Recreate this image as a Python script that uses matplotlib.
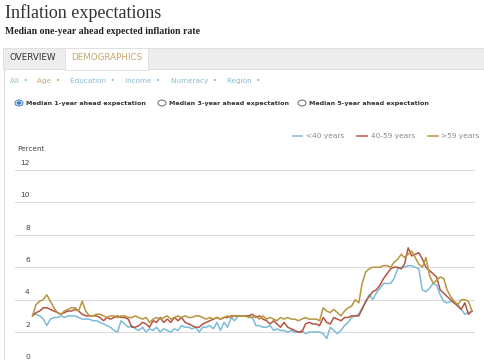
import numpy as np
import pandas as pd
import matplotlib
matplotlib.use("Agg")
import matplotlib.pyplot as plt
from matplotlib.patches import Rectangle, Circle

# Median one-year ahead expected inflation, by age group (monthly, from Jun 2013)
months = pd.date_range("2013-06-01", periods=125, freq="MS")

under_40 = [
    3.1, 3.1, 3.0, 2.8, 2.4, 2.8, 2.9, 2.9, 3.0, 2.9, 3.0, 3.0, 3.0, 2.9, 2.8, 2.8,
    2.8, 2.7, 2.7, 2.6, 2.5, 2.4, 2.3, 2.1, 2.0, 2.7, 2.5, 2.3, 2.4, 2.2, 2.1, 2.3,
    2.0, 2.2, 2.1, 2.3, 2.0, 2.2, 2.1, 2.0, 2.2, 2.1, 2.4, 2.3, 2.3, 2.2, 2.3, 2.0,
    2.3, 2.3, 2.4, 2.2, 2.6, 2.1, 2.6, 2.3, 2.9, 2.7, 3.0, 3.0, 3.0, 3.0, 2.9, 2.4,
    2.4, 2.3, 2.3, 2.4, 2.1, 2.2, 2.1, 2.1, 2.0, 2.1, 2.0, 2.0, 2.1, 1.9, 2.0, 2.0,
    2.0, 2.0, 1.9, 1.6, 2.3, 2.1, 1.9, 2.1, 2.4, 2.6, 2.9, 3.0, 3.1, 3.5, 3.8, 4.3,
    4.0, 4.4, 4.7, 5.0, 5.0, 5.0, 5.3, 5.9, 6.0, 6.0, 6.1, 6.1, 6.0, 5.9, 4.6, 4.5,
    4.7, 5.0, 4.9, 4.3, 3.9, 3.8, 3.9, 3.8, 3.7, 3.4, 3.1, 3.2, 3.3,
]
age_40_59 = [
    3.0, 3.2, 3.3, 3.5, 3.5, 3.4, 3.3, 3.2, 3.1, 3.2, 3.3, 3.3, 3.4, 3.3, 3.1, 3.0,
    3.0, 3.0, 3.0, 2.9, 2.7, 2.9, 2.8, 2.9, 3.0, 2.9, 2.9, 2.8, 2.3, 2.3, 2.4, 2.6,
    2.5, 2.3, 2.7, 2.6, 2.9, 2.6, 2.8, 2.6, 2.9, 2.7, 2.9, 2.6, 2.5, 2.4, 2.3, 2.3,
    2.5, 2.6, 2.7, 2.8, 2.9, 2.8, 2.9, 2.9, 3.0, 3.0, 3.0, 3.0, 3.0, 3.0, 3.1, 2.9,
    3.0, 2.8, 2.7, 2.5, 2.7, 2.5, 2.3, 2.6, 2.3, 2.2, 2.1, 2.0, 2.0, 2.5, 2.6, 2.5,
    2.5, 2.4, 2.9, 2.6, 2.5, 2.9, 2.8, 2.7, 2.9, 2.9, 3.0, 3.0, 3.0, 3.4, 3.9, 4.2,
    4.5, 4.6, 4.9, 5.3, 5.6, 5.9, 6.0, 6.0, 5.9, 6.2, 7.2, 6.7, 6.8, 6.9, 6.5, 6.0,
    5.8, 5.6, 5.4, 4.6, 4.4, 4.2, 4.0, 3.8, 3.6, 3.4, 3.8, 3.1, 3.3,
]
over_59 = [
    3.0, 3.7, 3.9, 4.0, 4.3, 3.9, 3.5, 3.2, 3.1, 3.3, 3.4, 3.5, 3.5, 3.3, 3.9, 3.3,
    3.0, 3.0, 3.1, 3.1, 3.0, 2.9, 3.0, 3.0, 2.9, 3.0, 3.0, 2.9, 2.9, 3.0, 2.9, 2.8,
    2.9, 2.6, 2.8, 2.9, 2.8, 2.9, 3.0, 2.8, 2.9, 3.0, 2.9, 3.0, 2.9, 2.9, 3.0, 3.0,
    2.9, 2.8, 2.9, 2.8, 2.9, 2.8, 2.9, 3.0, 2.9, 3.0, 3.0, 3.0, 3.0, 2.9, 2.9, 3.0,
    2.8, 3.0, 2.8, 2.9, 2.8, 2.7, 2.9, 2.8, 2.9, 2.8, 2.8, 2.7, 2.8, 2.9, 2.8, 2.8,
    2.8, 2.7, 3.5, 3.3, 3.2, 3.4, 3.2, 3.0, 3.3, 3.5, 3.6, 4.0, 3.8, 5.0, 5.7, 5.9,
    6.0, 6.0, 6.0, 6.1, 6.1, 6.0, 6.3, 6.5, 6.8, 6.6, 6.8, 7.0, 6.6, 6.2, 6.0, 6.6,
    5.5, 5.0, 5.2, 5.4, 5.3, 4.6, 4.2, 3.9, 3.7, 4.0, 4.0, 3.9, 3.3,
]

series_names = ["<40 years", "40-59 years", ">59 years"]
series_colors = ["#7cbcd8", "#b4553f", "#b8953f"]
y_ticks = [0, 2, 4, 6, 8, 10, 12]

filters = ["All", "Age", "Education", "Income", "Numeracy", "Region"]
filter_x = [10, 37, 70, 125, 171, 227]
radio_labels = ["Median 1-year ahead expectation",
                "Median 3-year ahead expectation",
                "Median 5-year ahead expectation"]
radio_x = [19, 162, 302]

W, H = 485, 360
fig = plt.figure(figsize=(W / 100, H / 100), dpi=100)
fig.patch.set_facecolor("white")


def fx(x):
    return x / W


def fy(y):
    return 1 - y / H


# page header
fig.text(fx(5), fy(13), "Inflation expectations", family="Liberation Serif",
         fontsize=13, color="#333333", va="center", ha="left")
fig.text(fx(5), fy(32), "Median one-year ahead expected inflation rate",
         family="Liberation Serif", fontsize=7.0, color="#222222", va="center",
         fontweight="bold")

# tab bar
fig.add_artist(Rectangle((fx(3), fy(69)), fx(482), 21 / H, transform=fig.transFigure,
                         facecolor="#ededed", edgecolor="#dddddd", lw=0.6))
fig.add_artist(Rectangle((fx(65), fy(70)), fx(83), 22 / H, transform=fig.transFigure,
                         facecolor="white", edgecolor="#dddddd", lw=0.6))
fig.text(fx(10), fy(58), "OVERVIEW", fontsize=6.3, color="#333333", va="center")
fig.text(fx(71), fy(58), "DEMOGRAPHICS", fontsize=6.3, color="#c3a66c", va="center")
# content box left border
fig.add_artist(plt.Line2D([fx(4), fx(4)], [fy(69), 0], transform=fig.transFigure,
                          color="#dddddd", lw=0.8))

# filter links
for name, x in zip(filters, filter_x):
    col = "#c3a66c" if name == "Age" else "#8ab8d0"
    fig.text(fx(x), fy(81), name + "  \u2022", fontsize=5.2, color=col, va="center")

# radio buttons
for i, (lab, x) in enumerate(zip(radio_labels, radio_x)):
    fig.add_artist(Circle((fx(x), fy(103)), 4 / W, transform=fig.transFigure,
                          facecolor="white", edgecolor="#666666" if i else "#3d7cc4",
                          lw=0.7))
    if i == 0:
        fig.add_artist(Circle((fx(x), fy(103)), 2.4 / W, transform=fig.transFigure,
                              facecolor="#3d7cc4", edgecolor="none"))
    fig.text(fx(x + 7), fy(103), lab, fontsize=4.6, color="#333333", va="center",
             fontweight="bold")

# chart axes: gridline 12 at y=170 px, 0 at y=364.5 px
y_top, y_zero = 170, 364.5
ax = fig.add_axes([fx(15), 1 - y_zero / H, fx(460), (y_zero - y_top) / H])
ax.set_facecolor("none")
for name, vals, col in zip(series_names, [under_40, age_40_59, over_59], series_colors):
    ax.plot(months, vals, color=col, lw=1.1, label=name)

ax.set_ylim(0, 12)
ax.set_xlim(months[0] - pd.DateOffset(months=5), months[-1] + pd.DateOffset(days=26))
ax.set_yticks(y_ticks)
ax.yaxis.grid(True, color="#dcdcdc", lw=0.8)
ax.set_axisbelow(True)
ax.tick_params(left=False, bottom=False, labelleft=False, labelbottom=False)
for s in ax.spines.values():
    s.set_visible(False)
for v in y_ticks:
    ax.text(0.012 if v >= 10 else 0.022, v + 0.45, str(v), transform=ax.get_yaxis_transform(),
            fontsize=5.4, color="#444444", va="center", ha="left", clip_on=False)

fig.text(fx(17), fy(149), "Percent", fontsize=5.2, color="#444444", va="center")

# legend drawn like the web chart
leg = ax.legend(loc="lower right", bbox_to_anchor=(fx(483), fy(143)),
                bbox_transform=fig.transFigure, ncol=3, frameon=False,
                fontsize=5.3, handlelength=1.3, handletextpad=0.5, columnspacing=1.8,
                borderpad=0)
for t in leg.get_texts():
    t.set_color("#888888")

fig.savefig("out.png", dpi=100, facecolor="white")
